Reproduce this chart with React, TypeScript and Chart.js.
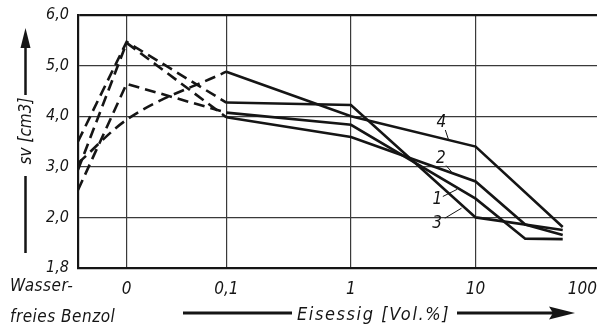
import React, { useEffect, useRef } from "react";
import { Chart, registerables } from "chart.js";

Chart.register(...registerables);

// ---- axis categories ----
// x axis: "Wasserfreies Benzol", 0, then logarithmic Eisessig concentrations (Vol.%)
const BENZOL_POS = -2.19; // axis slot for pure benzene (left edge)
const ZERO_POS = -1.8; // axis slot for 0 Vol.%
const X_MAX = 1.974;
const xTickValues = [BENZOL_POS, ZERO_POS, -1, 0, 1, X_MAX];
const xTickLabels = ["", "0", "0,1", "1", "10", "100"];

const yTickLabels: Record<number, string> = { 1: "1,8", 2: "2,0", 3: "3,0", 4: "4,0", 5: "5,0", 6: "6,0" };

// ---- series values ----
// dashed part: Benzol, 0, 0.1
const dashedLine1 = [2.54, 4.64, 4.07];
const dashedLine2 = [2.94, 5.45, 3.98];
const dashedLine3 = [3.5, 5.47, 4.27];
const dashedLine4 = [3.07, 3.93, 4.88];

// solid part: Eisessig concentrations (Vol.%)
const concentrations = [0.1, 1, 10, 25, 50];
const solidLine1 = [4.07, 3.83, 2.37, 1.58, 1.57];
const solidLine2 = [3.98, 3.59, 2.71, 1.86, 1.65];
const solidLine3 = [4.27, 4.22, 2.0, null, 1.75];
const solidLine4 = [4.88, 4.0, 3.4, null, 1.81];

// curve number labels (axis coordinates): text position, leader start, leader end
const curveLabels = [
  { text: "4", tx: 0.726, ty: 3.875, x1: 0.757, y1: 3.727, x2: 0.781, y2: 3.549 },
  { text: "2", tx: 0.721, ty: 3.162, x1: 0.764, y1: 3.024, x2: 0.807, y2: 2.901 },
  { text: "1", tx: 0.693, ty: 2.344, x1: 0.737, y1: 2.413, x2: 0.852, y2: 2.555 },
  { text: "3", tx: 0.691, ty: 1.885, x1: 0.753, y1: 1.984, x2: 0.887, y2: 2.182 },
];

const FONT_FAMILY = '"DejaVu Sans Condensed", "DejaVu Sans", sans-serif';
const INK = "#151515";

const dashedX = [BENZOL_POS, ZERO_POS, Math.log10(0.1)];
const toDashed = (vals: number[]) => vals.map((v, i) => ({ x: dashedX[i], y: v }));
const toSolid = (vals: (number | null)[]) =>
  vals
    .map((v, i) => (v === null ? null : { x: Math.log10(concentrations[i]), y: v }))
    .filter((p) => p !== null);

const annotationPlugin = {
  id: "annotations",
  afterDraw(chart: any) {
    const ctx = chart.ctx as CanvasRenderingContext2D;
    const xs = chart.scales.x;
    const ys = chart.scales.y;
    const area = chart.chartArea;
    ctx.save();
    ctx.fillStyle = INK;
    ctx.strokeStyle = INK;

    // curve labels
    ctx.font = `italic 17px ${FONT_FAMILY}`;
    ctx.textAlign = "center";
    ctx.textBaseline = "middle";
    ctx.lineWidth = 1;
    for (const l of curveLabels) {
      ctx.fillText(l.text, xs.getPixelForValue(l.tx), ys.getPixelForValue(l.ty));
      ctx.beginPath();
      ctx.moveTo(xs.getPixelForValue(l.x1), ys.getPixelForValue(l.y1));
      ctx.lineTo(xs.getPixelForValue(l.x2), ys.getPixelForValue(l.y2));
      ctx.stroke();
    }

    // x category caption for Benzol
    ctx.textAlign = "left";
    ctx.font = `italic 17px ${FONT_FAMILY}`;
    (ctx as any).letterSpacing = "0.5px";
    ctx.fillText("Wasser-", 10, area.bottom + 19);
    ctx.fillText("freies Benzol", 10, area.bottom + 50);

    // x axis title with arrows
    const ty = area.bottom + 45;
    ctx.lineWidth = 3;
    ctx.beginPath();
    ctx.moveTo(183, ty);
    ctx.lineTo(292, ty);
    ctx.moveTo(457, ty);
    ctx.lineTo(556, ty);
    ctx.stroke();
    ctx.beginPath();
    ctx.moveTo(575, ty);
    ctx.lineTo(549, ty - 6.5);
    ctx.lineTo(553, ty);
    ctx.lineTo(549, ty + 6.5);
    ctx.closePath();
    ctx.fill();
    ctx.textAlign = "left";
    ctx.font = `italic 18px ${FONT_FAMILY}`;
    (ctx as any).letterSpacing = "1.6px";
    ctx.fillText("Eisessig [Vol.%]", 297, ty + 2);
    (ctx as any).letterSpacing = "0px";

    // y axis title with arrow
    const ax = 25.5;
    ctx.lineWidth = 2.5;
    ctx.beginPath();
    ctx.moveTo(ax, 46);
    ctx.lineTo(ax, 95);
    ctx.moveTo(ax, 176);
    ctx.lineTo(ax, 253);
    ctx.stroke();
    ctx.beginPath();
    ctx.moveTo(ax, 28);
    ctx.lineTo(ax - 5, 48);
    ctx.lineTo(ax + 5, 48);
    ctx.closePath();
    ctx.fill();
    ctx.translate(27, 131);
    ctx.rotate(-Math.PI / 2);
    ctx.textAlign = "center";
    ctx.font = `italic 17px ${FONT_FAMILY}`;
    ctx.fillText("sv [cm3]", 0, 0);
    ctx.restore();
  },
};

export default function App() {
  const canvasRef = useRef<HTMLCanvasElement | null>(null);

  useEffect(() => {
    if (!canvasRef.current) return;
    const dashedStyle = {
      borderColor: INK,
      borderWidth: 2.6,
      borderDash: [11, 6],
      pointRadius: 0,
      fill: false,
      tension: 0,
    };
    const solidStyle = {
      borderColor: INK,
      borderWidth: 2.6,
      pointRadius: 0,
      fill: false,
      tension: 0,
    };
    const chart = new Chart(canvasRef.current, {
      type: "line",
      data: {
        datasets: [
          { label: "1 (dashed)", data: toDashed(dashedLine1), ...dashedStyle },
          { label: "2 (dashed)", data: toDashed(dashedLine2), ...dashedStyle },
          { label: "3 (dashed)", data: toDashed(dashedLine3), ...dashedStyle },
          { label: "4 (dashed)", data: toDashed(dashedLine4), ...dashedStyle, cubicInterpolationMode: "monotone" },
          { label: "1", data: toSolid(solidLine1), ...solidStyle },
          { label: "2", data: toSolid(solidLine2), ...solidStyle },
          { label: "3", data: toSolid(solidLine3), ...solidStyle },
          { label: "4", data: toSolid(solidLine4), ...solidStyle },
        ] as any,
      },
      options: {
        responsive: false,
        maintainAspectRatio: false,
        animation: false,
        devicePixelRatio: 1,
        layout: { padding: { top: 15, left: 0, right: 0, bottom: 0 } },
        plugins: { legend: { display: false }, tooltip: { enabled: false } },
        scales: {
          x: {
            type: "linear",
            min: BENZOL_POS,
            max: X_MAX,
            afterBuildTicks: (scale: any) => {
              scale.ticks = xTickValues.map((v) => ({ value: v }));
            },
            afterFit: (scale: any) => {
              scale.height = 59;
              scale.paddingLeft = 0;
              scale.paddingRight = 0;
            },
            ticks: {
              autoSkip: false,
              maxRotation: 0,
              minRotation: 0,
              align: "inner",
              padding: 11,
              color: INK,
              font: { family: FONT_FAMILY, size: 17, style: "italic" },
              callback: (_v: any, i: number) => xTickLabels[i],
            },
            grid: {
              drawTicks: false,
              color: "#3a3a3a",
              lineWidth: (c: any) => (c.index === 0 || c.index === xTickValues.length - 1 ? 0 : 1.2),
            },
            border: { display: true, color: INK, width: 2.2 },
          },
          y: {
            type: "linear",
            min: 1,
            max: 6,
            afterFit: (scale: any) => {
              scale.width = 78;
              scale.paddingTop = 0;
              scale.paddingBottom = 0;
            },
            ticks: {
              stepSize: 1,
              padding: 9,
              color: INK,
              font: { family: FONT_FAMILY, size: 16, style: "italic" },
              callback: (v: any) => yTickLabels[v as number] ?? "",
            },
            grid: {
              drawTicks: false,
              color: (c: any) => (c.tick && c.tick.value === 6 ? INK : "#3a3a3a"),
              lineWidth: (c: any) => (c.tick && c.tick.value === 6 ? 2.2 : c.tick && c.tick.value === 1 ? 0 : 1.2),
            },
            border: { display: true, color: INK, width: 2.2 },
          },
        },
      } as any,
      plugins: [annotationPlugin],
    });
    return () => chart.destroy();
  }, []);

  return (
    <div style={{ position: "fixed", left: 0, top: 0, width: 597, height: 327, background: "#fff", overflow: "hidden" }}>
      <canvas ref={canvasRef} width={597} height={327} style={{ width: 597, height: 327, display: "block" }} />
    </div>
  );
}
